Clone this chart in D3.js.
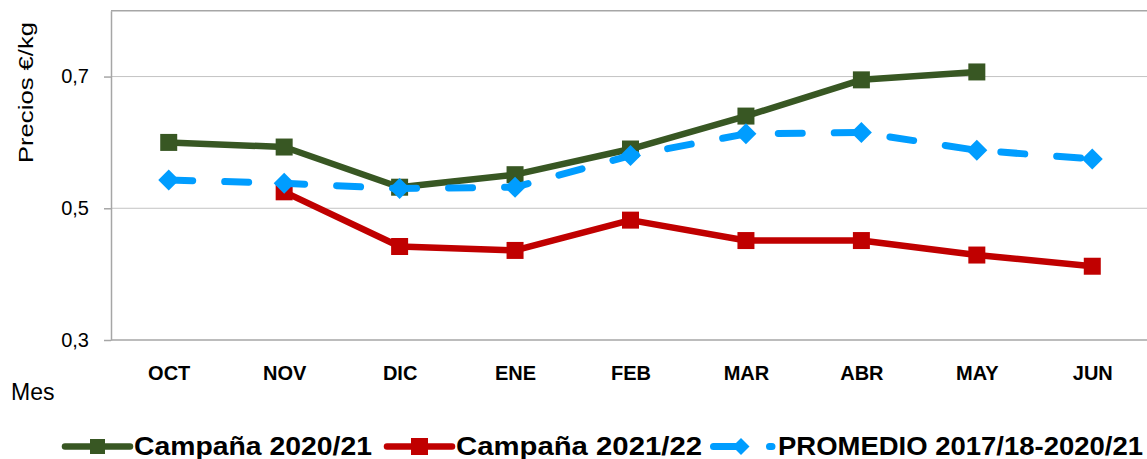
<!DOCTYPE html>
<html>
<head>
<meta charset="utf-8">
<script src="https://cdn.jsdelivr.net/npm/d3@7"></script>
<style>
  html, body { margin: 0; padding: 0; background: #fff; }
  svg { display: block; }
</style>
</head>
<body>
<svg id="chart" width="1147" height="459"></svg>
<script>
// ---- data ----
const categories = ["OCT", "NOV", "DIC", "ENE", "FEB", "MAR", "ABR", "MAY", "JUN"];
const campana2021 = [0.600, 0.593, 0.532, 0.551, 0.590, 0.640, 0.695, 0.707, null];
const campana2122 = [null, 0.525, 0.442, 0.436, 0.482, 0.451, 0.451, 0.429, 0.412];
const promedio = [0.543, 0.538, 0.530, 0.532, 0.580, 0.613, 0.615, 0.588, 0.575];
const yTicks = [0.3, 0.5, 0.7];
const seriesNames = ["Campaña 2020/21", "Campaña 2021/22", "PROMEDIO 2017/18-2020/21"];
const yTitle = "Precios €/kg";
const xTitle = "Mes";

// ---- layout ----
const W = 1147, H = 459;
const plot = { left: 111, right: 1150, top: 10.7, bottom: 340 };
const svg = d3.select("#chart");

const x = d3.scalePoint().domain(categories).range([plot.left, plot.right]).padding(0.5);
const y = d3.scaleLinear().domain([0.3, 0.8]).range([plot.bottom, plot.top]);

const locale = d3.formatLocale({ decimal: ",", thousands: ".", grouping: [3], currency: ["", "€"] });
const fmt = locale.format(".1f");

const colors = ["#385723", "#C00000", "#009DFF"];
const labelFont = "'Liberation Sans', Arial, sans-serif";

// gridlines
svg.append("g")
  .selectAll("line")
  .data(yTicks.filter(d => d > 0.3))
  .join("line")
  .attr("x1", plot.left).attr("x2", plot.right)
  .attr("y1", d => y(d)).attr("y2", d => y(d))
  .attr("stroke", "#C4C4C4").attr("stroke-width", 1);

// frame top
svg.append("line")
  .attr("x1", plot.left).attr("x2", plot.right)
  .attr("y1", plot.top).attr("y2", plot.top)
  .attr("stroke", "#A6A6A6").attr("stroke-width", 1.5);

// y axis
const yAxis = svg.append("g")
  .attr("transform", `translate(${plot.left},0)`)
  .call(d3.axisLeft(y).tickValues(yTicks).tickFormat(fmt).tickSize(7).tickSizeOuter(0).tickPadding(15));
yAxis.select(".domain").attr("stroke", "#A6A6A6").attr("stroke-width", 1.5);
yAxis.selectAll(".tick line").attr("stroke", "#A6A6A6").attr("stroke-width", 1.5);
yAxis.selectAll(".tick text")
  .attr("font-family", labelFont).attr("font-size", 20).attr("fill", "#000");

// x axis
const xAxis = svg.append("g")
  .attr("transform", `translate(0,${plot.bottom})`)
  .call(d3.axisBottom(x).tickSize(0).tickPadding(26));
xAxis.select(".domain").attr("stroke", "#A6A6A6").attr("stroke-width", 1.5)
  .attr("d", `M${plot.left},0H${plot.right}`);
xAxis.selectAll(".tick text")
  .attr("font-family", labelFont).attr("font-size", 20).attr("font-weight", "bold").attr("fill", "#000");

// axis titles
svg.append("text")
  .attr("transform", `translate(33,92.5) rotate(-90)`)
  .attr("text-anchor", "middle")
  .attr("font-family", labelFont).attr("font-size", 21)
  .attr("textLength", 141).attr("lengthAdjust", "spacingAndGlyphs")
  .attr("fill", "#000")
  .text(yTitle);

svg.append("text")
  .attr("x", 11).attr("y", 400)
  .attr("font-family", labelFont).attr("font-size", 23)
  .attr("fill", "#000")
  .text(xTitle);

// ---- series ----
const lineGen = d3.line()
  .defined(d => d.v !== null)
  .x(d => x(d.c))
  .y(d => y(d.v));

function toPts(arr) { return categories.map((c, i) => ({ c, v: arr[i] })); }

const series = [
  { name: seriesNames[0], values: campana2021, color: colors[0], marker: "square", dash: null, size: 17 },
  { name: seriesNames[1], values: campana2122, color: colors[1], marker: "square", dash: null, size: 17 },
  { name: seriesNames[2], values: promedio, color: colors[2], marker: "diamond", dash: "24,32", size: 21 }
];

function markerPath(s, size) {
  if (s.marker === "square") return d3.symbol().type(d3.symbolSquare).size(size * size)();
  const h = size / 2;
  return `M0,${-h}L${h},0L0,${h}L${-h},0Z`;
}

series.forEach(s => {
  const pts = toPts(s.values);
  const g = svg.append("g");
  g.append("path")
    .datum(pts)
    .attr("d", lineGen)
    .attr("fill", "none")
    .attr("stroke", s.color)
    .attr("stroke-width", s.dash ? 7 : 6.5)
    .attr("stroke-linecap", s.dash ? "round" : "butt")
    .attr("stroke-linejoin", "round")
    .attr("stroke-dasharray", s.dash);
  g.selectAll("path.m")
    .data(pts.filter(d => d.v !== null))
    .join("path")
    .attr("class", "m")
    .attr("transform", d => `translate(${x(d.c)},${y(d.v)})`)
    .attr("d", markerPath(s, s.size))
    .attr("fill", s.color);
});

// ---- legend ----
const legendY = 446.5;
const legendItems = [
  { s: series[0], x0: 65, x1: 130, tx: 134, tw: 238, msize: 15 },
  { s: series[1], x0: 387, x1: 452, tx: 456, tw: 246, msize: 17 },
  { s: series[2], x0: 713.5, x1: 772, tx: 778, tw: 365, msize: 17 }
];
legendItems.forEach(li => {
  const g = svg.append("g");
  g.append("line")
    .attr("x1", li.x0).attr("x2", li.x1)
    .attr("y1", legendY).attr("y2", legendY)
    .attr("stroke", li.s.color)
    .attr("stroke-width", li.s.dash ? 7 : 6.5)
    .attr("stroke-linecap", "round")
    .attr("stroke-dasharray", li.s.dash);
  const mx = li.s.dash ? 741 : (li.x0 + li.x1) / 2;
  g.append("path")
    .attr("transform", `translate(${mx},${legendY})`)
    .attr("d", markerPath(li.s, li.msize))
    .attr("fill", li.s.color);
  g.append("text")
    .attr("x", li.tx).attr("y", 455)
    .attr("font-family", labelFont).attr("font-size", 25).attr("font-weight", "bold")
    .attr("textLength", li.tw).attr("lengthAdjust", "spacingAndGlyphs")
    .attr("fill", "#000")
    .text(li.s.name);
});
</script>
</body>
</html>
